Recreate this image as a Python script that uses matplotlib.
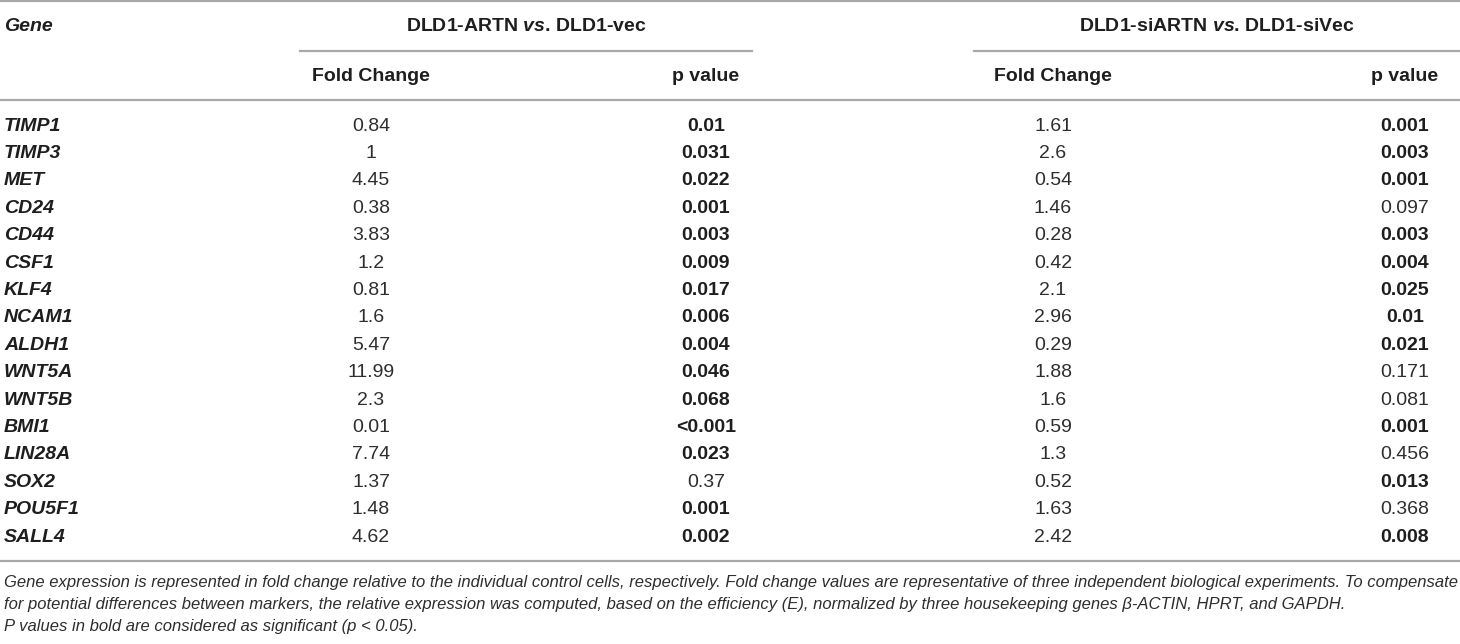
import matplotlib.pyplot as plt

genes = ['TIMP1', 'TIMP3', 'MET', 'CD24', 'CD44', 'CSF1', 'KLF4', 'NCAM1',
         'ALDH1', 'WNT5A', 'WNT5B', 'BMI1', 'LIN28A', 'SOX2', 'POU5F1', 'SALL4']
fold_artn = ['0.84', '1', '4.45', '0.38', '3.83', '1.2', '0.81', '1.6',
             '5.47', '11.99', '2.3', '0.01', '7.74', '1.37', '1.48', '4.62']
p_artn = ['0.01', '0.031', '0.022', '0.001', '0.003', '0.009', '0.017', '0.006',
          '0.004', '0.046', '0.068', '<0.001', '0.023', '0.37', '0.001', '0.002']
bold_artn = [True] * 13 + [False, True, True]
fold_si = ['1.61', '2.6', '0.54', '1.46', '0.28', '0.42', '2.1', '2.96',
           '0.29', '1.88', '1.6', '0.59', '1.3', '0.52', '1.63', '2.42']
p_si = ['0.001', '0.003', '0.001', '0.097', '0.003', '0.004', '0.025', '0.01',
        '0.021', '0.171', '0.081', '0.001', '0.456', '0.013', '0.368', '0.008']
bold_si = [True, True, True, False, True, True, True, True,
           True, False, False, True, False, True, False, True]

footnote = [
    'Gene expression is represented in fold change relative to the individual control cells, respectively. '
    'Fold change values are representative of three independent biological experiments. To compensate',
    'for potential differences between markers, the relative expression was computed, based on the efficiency (E), '
    'normalized by three housekeeping genes \u03b2-ACTIN, HPRT, and GAPDH.',
    'P values in bold are considered as significant (p < 0.05).',
]

plt.rcParams['font.family'] = ['Liberation Sans', 'DejaVu Sans']
plt.rcParams['mathtext.fontset'] = 'custom'
plt.rcParams['mathtext.it'] = 'Liberation Sans:italic:bold'
plt.rcParams['mathtext.rm'] = 'Liberation Sans:bold'

ink = '#1e1e1e'
light = '#2e2e2e'
rule = '#a9a9a9'
fs = 14

# column centres
x_fold1, x_p1, x_fold2, x_p2 = 371, 706, 1053, 1405

fig = plt.figure(figsize=(14.6, 6.44), dpi=100)
ax = fig.add_axes([0, 0, 1, 1])
ax.set_xlim(0, 1460)
ax.set_ylim(644, 0)
ax.axis('off')

# rules
ax.plot([0, 1460], [1, 1], color=rule, lw=1.6)
ax.plot([300, 752], [51, 51], color=rule, lw=1.6)
ax.plot([974, 1460], [51, 51], color=rule, lw=1.6)
ax.plot([0, 1460], [100, 100], color=rule, lw=1.6)
ax.plot([0, 1460], [561, 561], color=rule, lw=1.6)

# headers
ax.text(4, 26, 'Gene', fontsize=fs, style='italic', weight='bold', color=ink, va='center')
ax.text(526, 26, r'DLD1-ARTN $\it{vs}$. DLD1-vec', fontsize=fs, weight='bold', color=ink,
        va='center', ha='center')
ax.text(1217, 26, r'DLD1-siARTN $\it{vs}$. DLD1-siVec', fontsize=fs, weight='bold', color=ink,
        va='center', ha='center')
for xc, lab in [(x_fold1, 'Fold Change'), (x_p1, 'p value'),
                (x_fold2, 'Fold Change'), (x_p2, 'p value')]:
    ax.text(xc, 76, lab, fontsize=fs, weight='bold', color=ink, va='center', ha='center')

# body
y0, dy = 126, 27.4
for i, g in enumerate(genes):
    y = y0 + i * dy
    ax.text(4, y, g, fontsize=fs, style='italic', weight='bold', color=ink, va='center')
    ax.text(x_fold1, y, fold_artn[i], fontsize=fs, color=light, va='center', ha='center')
    ax.text(x_p1, y, p_artn[i], fontsize=fs, va='center', ha='center',
            weight='bold' if bold_artn[i] else 'normal',
            color=ink if bold_artn[i] else light)
    ax.text(x_fold2, y, fold_si[i], fontsize=fs, color=light, va='center', ha='center')
    ax.text(x_p2, y, p_si[i], fontsize=fs, va='center', ha='center',
            weight='bold' if bold_si[i] else 'normal',
            color=ink if bold_si[i] else light)

for j, line in enumerate(footnote):
    ax.text(4, 583 + j * 22, line, fontsize=12, style='italic', color=light, va='center')

fig.savefig('out.png', dpi=100)
